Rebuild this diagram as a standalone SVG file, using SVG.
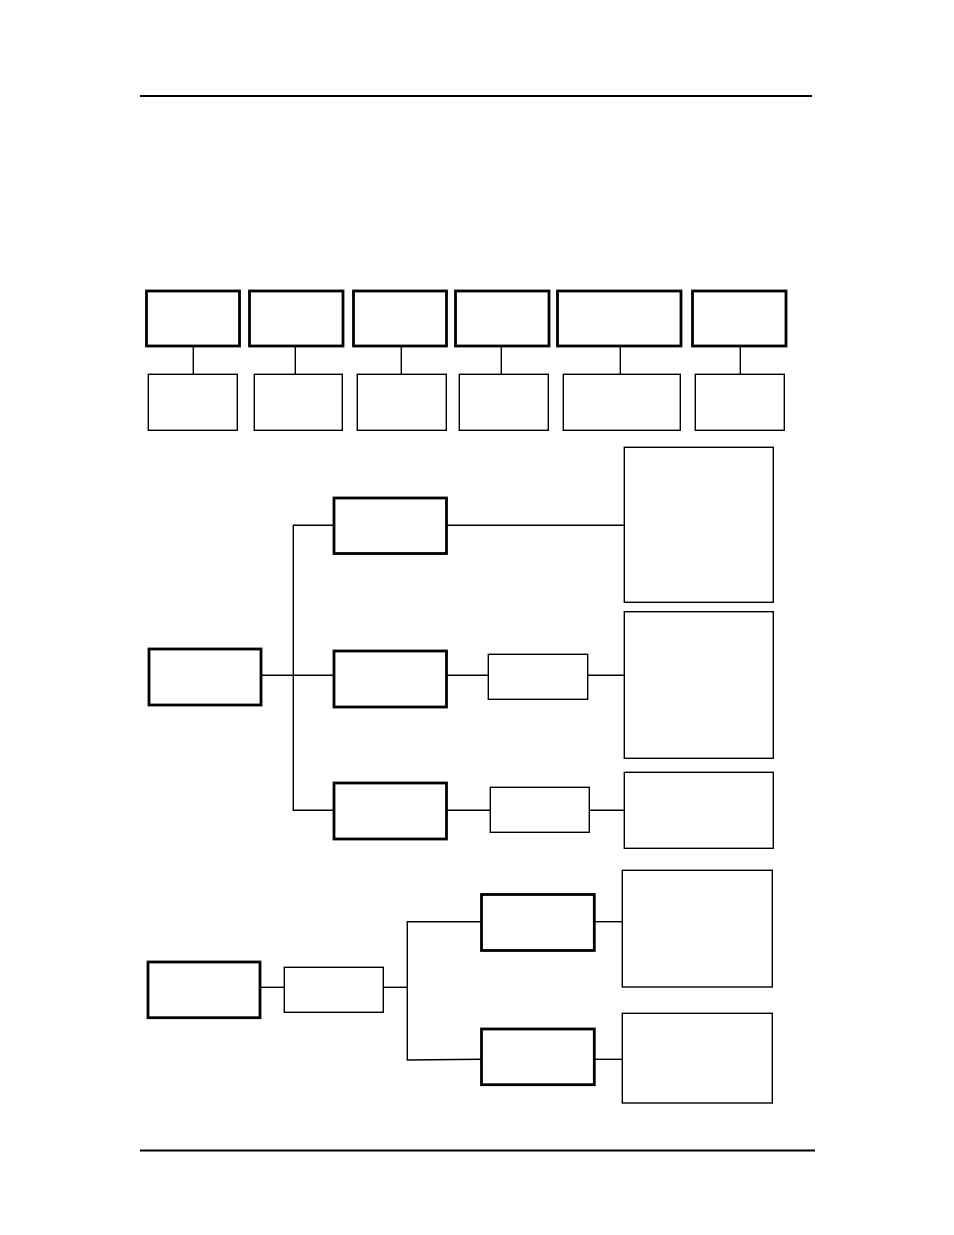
<svg xmlns="http://www.w3.org/2000/svg" width="954" height="1235" viewBox="0 0 954 1235">
<style>
rect{fill:#fff;stroke:#000}
.k{stroke-width:2.8}
.t{stroke-width:1.4}
line,polyline{stroke:#000;stroke-width:1.4;fill:none}
.rule{stroke-width:2.2}
</style>
<rect x="0" y="0" width="954" height="1235" style="stroke:none"/>
<line class="rule" x1="140" y1="96" x2="812" y2="96"/>
<line class="rule" x1="140" y1="1150.5" x2="815" y2="1150.5"/>
<g id="connectors">
<line x1="193.3" y1="346" x2="193.3" y2="374"/>
<line x1="295.3" y1="346" x2="295.3" y2="374"/>
<line x1="401.3" y1="346" x2="401.3" y2="374"/>
<line x1="501.3" y1="346" x2="501.3" y2="374"/>
<line x1="620.3" y1="346" x2="620.3" y2="374"/>
<line x1="740.3" y1="346" x2="740.3" y2="374"/>
<line x1="261" y1="675.3" x2="334" y2="675.3"/>
<polyline points="334,525.3 293.3,525.3 293.3,810.3 334,810.3"/>
<line x1="446.7" y1="525.3" x2="624.3" y2="525.3"/>
<line x1="446.7" y1="675.3" x2="488.3" y2="675.3"/>
<line x1="587.7" y1="675.3" x2="624.3" y2="675.3"/>
<line x1="446.7" y1="810.3" x2="490.3" y2="810.3"/>
<line x1="589.3" y1="810.3" x2="624.3" y2="810.3"/>
<line x1="260.3" y1="987.3" x2="284.3" y2="987.3"/>
<line x1="383.3" y1="987.3" x2="407.3" y2="987.3"/>
<polyline points="481.3,921.7 407.3,921.7 407.3,1060 481.3,1059.3" />
<line x1="594.3" y1="921.7" x2="622.3" y2="921.7"/>
<line x1="594.3" y1="1059.3" x2="622.3" y2="1059.3"/>
</g>
<g id="top1"><rect class="k" x="146.5" y="291" width="93" height="55"/></g>
<g id="top2"><rect class="k" x="249.5" y="291" width="93.5" height="55"/></g>
<g id="top3"><rect class="k" x="353.5" y="291" width="93" height="55"/></g>
<g id="top4"><rect class="k" x="455.5" y="291" width="93.5" height="55"/></g>
<g id="top5"><rect class="k" x="557.5" y="291" width="123.5" height="55"/></g>
<g id="top6"><rect class="k" x="692.5" y="291" width="93.5" height="55"/></g>
<g id="sub1"><rect class="t" x="148.3" y="374.3" width="89" height="56"/></g>
<g id="sub2"><rect class="t" x="254.3" y="374.3" width="88" height="56"/></g>
<g id="sub3"><rect class="t" x="357.3" y="374.3" width="89" height="56"/></g>
<g id="sub4"><rect class="t" x="459.3" y="374.3" width="89" height="56"/></g>
<g id="sub5"><rect class="t" x="563.3" y="374.3" width="117" height="56"/></g>
<g id="sub6"><rect class="t" x="695.3" y="374.3" width="89" height="56"/></g>
<g id="root1"><rect class="k" x="149" y="649" width="112" height="56"/></g>
<g id="a1"><rect class="k" x="334" y="498" width="112.5" height="55.5"/></g>
<g id="a2"><rect class="k" x="334" y="651" width="112.5" height="56"/></g>
<g id="a3"><rect class="k" x="334" y="783" width="112.5" height="56"/></g>
<g id="m1"><rect class="t" x="488.3" y="654.3" width="99.4" height="45"/></g>
<g id="m2"><rect class="t" x="490.3" y="787.3" width="99" height="45"/></g>
<g id="r1"><rect class="t" x="624.3" y="447.3" width="149" height="155"/></g>
<g id="r2"><rect class="t" x="624.3" y="611.7" width="149" height="146.6"/></g>
<g id="r3"><rect class="t" x="624.3" y="772.3" width="149" height="76"/></g>
<g id="root2"><rect class="k" x="148" y="962" width="112" height="55.7"/></g>
<g id="p1"><rect class="t" x="284.3" y="967.3" width="99" height="45"/></g>
<g id="q1"><rect class="k" x="481.5" y="894.5" width="112.8" height="56"/></g>
<g id="q2"><rect class="k" x="481.5" y="1029" width="112.8" height="55.7"/></g>
<g id="r4"><rect class="t" x="622.3" y="870.3" width="150" height="116.7"/></g>
<g id="r5"><rect class="t" x="622.3" y="1013.3" width="150" height="89.7"/></g>
</svg>
